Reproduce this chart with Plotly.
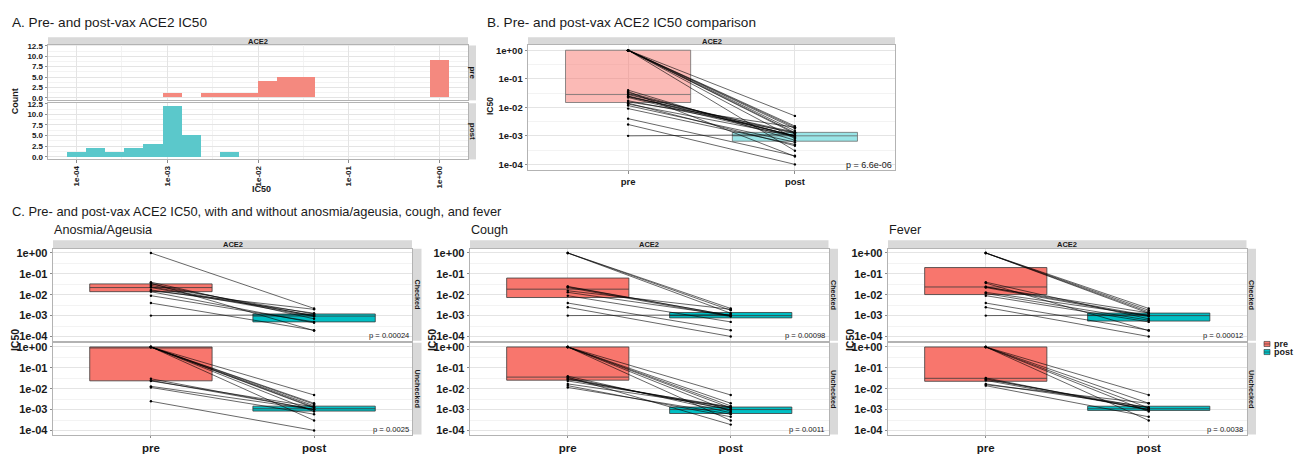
import numpy as np
import plotly.graph_objects as go

# ---------------- data ----------------
pre_ic50 = [0.001, 0.0025, 0.004, 0.009, 0.0115, 0.013, 0.014, 0.0155, 0.017,
            0.0235, 0.022, 0.024, 0.025, 0.028, 0.030, 0.033, 0.036, 0.040,
            1.0, 1.0, 1.0, 1.0, 1.0, 1.0, 1.0, 1.0, 1.0]
post_ic50 = [0.0011, 0.0001, 0.0002, 0.0005, 0.0006, 0.001, 0.00045, 0.002, 0.0013,
             0.00135, 0.0009, 0.001, 0.001, 0.0012, 0.001, 0.00095, 0.00019, 0.0007,
             0.0022, 0.0018, 0.0013, 0.0015, 0.005, 0.002, 0.0012, 0.0008, 0.0003]
anosmia = [1, 0, 1, 1, 0, 0, 1, 1, 1, 0, 1, 1, 0, 1, 0, 1, 1, 1, 1, 0, 0, 0, 0, 0, 0, 0, 0]
cough = [1, 1, 1, 1, 0, 1, 0, 1, 0, 0, 1, 1, 1, 0, 0, 0, 0, 0, 1, 1, 1, 0, 0, 0, 0, 0, 0]
fever = [1, 1, 1, 1, 1, 1, 0, 0, 0, 1, 1, 1, 0, 0, 0, 0, 1, 1, 1, 1, 1, 1, 0, 0, 0, 0, 0]

groups = ["pre", "post"]
facet_rows = ["Checked", "Unchecked"]
symptom_titles = ["Anosmia/Ageusia", "Cough", "Fever"]
p_overall = "p = 6.6e-06"
p_symptom = [["p = 0.00024", "p = 0.0025"],
             ["p = 0.00098", "p = 0.0011"],
             ["p = 0.00012", "p = 0.0038"]]
ic50_tick_vals = [1e-4, 1e-3, 1e-2, 1e-1, 1e0]
ic50_tick_text = ["1e-04", "1e-03", "1e-02", "1e-01", "1e+00"]
count_tick_vals = [0, 2.5, 5, 7.5, 10, 12.5]
count_tick_text = ["0.0", "2.5", "5.0", "7.5", "10.0", "12.5"]
HIST_BINS = 20

# ---------------- styling ----------------
W, H = 1301, 454
FONT = "Liberation Sans, Arial, Helvetica, sans-serif"
PRE_FULL, POST_FULL = "#F8766D", "#00BFC4"
PRE_HIST, POST_HIST = "#F4897F", "#5BC8CB"
PRE_LIGHT, POST_LIGHT = "rgba(248,118,109,0.5)", "rgba(0,191,196,0.4)"
GRID_MAJ, GRID_MIN, BORDER = "#E4E4E4", "#F3F3F3", "#B3B3B3"
TXT = "#1A1A1A"
STRIP = "#D9D9D9"

# log-tick decoration positions (decades and 2..9 subdivisions)
LOG_MAJOR = [10.0 ** e for e in range(-5, 2)]
LOG_MINOR = [m * 10.0 ** e for e in range(-5, 1) for m in range(2, 10)]


def dx(a, b):
    return [a / W, b / W]


def dy(top, bottom):
    return [1 - bottom / H, 1 - top / H]


lpre = np.log10(pre_ic50)
lpost = np.log10(post_ic50)
ltick = list(np.log10(ic50_tick_vals))

fig = go.Figure()
layout = {}
shapes, annotations = [], []


def text(x, y, s, size, bold=False, anchor="left", angle=0, color=TXT):
    annotations.append(dict(
        x=x / W, y=1 - y / H, xref="paper", yref="paper",
        text=("<b>%s</b>" % s) if bold else s, showarrow=False,
        xanchor=anchor, yanchor="middle", textangle=angle, borderpad=0,
        font=dict(size=size, family=FONT, color=color)))


def rect(x0, y0, x1, y1, fill):
    shapes.append(dict(type="rect", xref="paper", yref="paper",
                       x0=x0 / W, x1=x1 / W, y0=1 - y1 / H, y1=1 - y0 / H,
                       fillcolor=fill, line=dict(width=0), layer="below"))


def axis(domain, anchor, rng, tickvals, ticktext, size, labels=True,
         minor=None, ticks="outside", angle=None):
    d = dict(domain=domain, anchor=anchor, range=rng, tickmode="array",
             tickvals=tickvals, ticktext=ticktext, showticklabels=labels,
             tickfont=dict(size=size, family=FONT, color=TXT, weight="bold"),
             ticks=ticks, ticklen=2.5, tickwidth=0.8, tickcolor="#8C8C8C",
             showline=True, linecolor=BORDER, linewidth=0.8, mirror=True,
             showgrid=True, gridcolor=GRID_MAJ, gridwidth=0.8,
             zeroline=False, fixedrange=True)
    if minor is not None:
        d["minor"] = dict(tickmode="linear", tick0=0, dtick=minor, showgrid=True,
                          gridcolor=GRID_MIN, gridwidth=0.6, ticks="")
    if angle is not None:
        d["tickangle"] = angle
    return d


def logticks(overlay, anchor, rng, side):
    return dict(overlaying=overlay, anchor=anchor, type="log", range=rng, side=side,
                showline=False, showgrid=False, zeroline=False, showticklabels=False,
                tickmode="array", tickvals=LOG_MAJOR, ticks="inside", ticklen=3,
                tickwidth=0.6, tickcolor="#8C8C8C", fixedrange=True,
                minor=dict(tickmode="array", tickvals=LOG_MINOR, ticks="inside",
                           ticklen=1.8, tickwidth=0.5, tickcolor="#9A9A9A",
                           showgrid=False))


def qstats(v):
    q1, med, q3 = np.percentile(v, [25, 50, 75])
    return q1, med, q3


def add_box(xpos, v, fill, line, ax):
    q1, med, q3 = qstats(v)
    fig.add_trace(go.Box(x=[xpos], q1=[q1], median=[med], q3=[q3],
                         lowerfence=[q1], upperfence=[q3], width=0.75,
                         fillcolor=fill, line=dict(color=line, width=0.8),
                         whiskerwidth=0, boxpoints=False, hoverinfo="skip",
                         xaxis="x%d" % ax, yaxis="y%d" % ax, showlegend=False))


def add_pairs(a, b, ax):
    xs, ys = [], []
    for u, v in zip(a, b):
        xs += [1, 2, None]
        ys += [u, v, None]
    fig.add_trace(go.Scatter(x=xs, y=ys, mode="lines+markers",
                             line=dict(color="black", width=0.6),
                             marker=dict(color="black", size=2.4),
                             hoverinfo="skip", showlegend=False,
                             xaxis="x%d" % ax, yaxis="y%d" % ax))


# ---------------- Panel A: histograms ----------------
A_X = (48, 468)
A_ROWS = [(42.7, 99.2), (102.2, 160)]
lall = np.concatenate([lpre, lpost])
bw = (lall.max() - lall.min()) / (HIST_BINS - 1)
a_lo, a_hi = lall.min() - bw / 2, lall.max() + bw / 2
a_pad = 0.05 * (a_hi - a_lo)
a_rng = [a_lo - a_pad, a_hi + a_pad]
for i, (vals, col) in enumerate([(lpre, PRE_HIST), (lpost, POST_HIST)]):
    ax = i + 1
    fig.add_trace(go.Histogram(x=vals, xbins=dict(start=a_lo, end=a_hi, size=bw),
                               marker=dict(color=col, line=dict(width=0)),
                               hoverinfo="skip", showlegend=False,
                               xaxis="x%d" % ax, yaxis="y%d" % ax))
    top, bot = A_ROWS[i]
    layout["xaxis%d" % ax] = axis(dx(*A_X), "y%d" % ax, a_rng, ltick, ic50_tick_text, 8,
                                  labels=(i == 1), minor=0.5,
                                  ticks="outside" if i == 1 else "", angle=-90)
    layout["yaxis%d" % ax] = axis(dy(top, bot), "x%d" % ax, [-0.6, 12.6],
                                  count_tick_vals, count_tick_text, 8, minor=1.25)
    layout["xaxis%d" % (10 + i)] = logticks("x%d" % ax, "y%d" % ax, a_rng, "bottom")
    rect(469, top, 476, bot, STRIP)
    text(472.5, (top + bot) / 2, groups[i], 8, bold=True, anchor="center", angle=90)
rect(A_X[0], 34.3, A_X[1], 42.7, STRIP)
text((A_X[0] + A_X[1]) / 2, 38.6, "ACE2", 7.5, bold=True, anchor="center")
text(11, 18.8, "A. Pre- and post-vax ACE2 IC50", 13.6)
text(15, 100, "Count", 9, bold=True, anchor="center", angle=-90)
text(261, 190.5, "IC50", 9, bold=True, anchor="center")

# ---------------- Panel B: paired comparison ----------------
B_X, B_Y = (528, 895), (41.7, 171)
y_rng = [-4.2, 0.2]
add_box(1, lpre, PRE_LIGHT, "#6E6E6E", 3)
add_box(2, lpost, POST_LIGHT, "#6E6E6E", 3)
add_pairs(lpre, lpost, 3)
layout["xaxis3"] = axis(dx(*B_X), "y3", [0.4, 2.6], [1, 2], groups, 9.5)
layout["yaxis3"] = axis(dy(*B_Y), "x3", y_rng, ltick, ic50_tick_text, 9.5, minor=0.5)
layout["yaxis12"] = logticks("y3", "x3", y_rng, "left")
rect(B_X[0], 34.3, B_X[1], B_Y[0], STRIP)
text((B_X[0] + B_X[1]) / 2, 38.2, "ACE2", 7.5, bold=True, anchor="center")
text(893, 165.5, p_overall, 9, anchor="right")
text(486, 18.8, "B. Pre- and post-vax ACE2 IC50 comparison", 13.6)
text(490, 105, "IC50", 8.5, bold=True, anchor="center", angle=-90)

# ---------------- Panel C: by symptom ----------------
C_X = [(53, 412), (470, 828.5), (888, 1246.5)]
C_ROWS = [(252, 346.6), (348.8, 443.3)]
text(11, 214, "C. Pre- and post-vax ACE2 IC50, with and without anosmia/ageusia, cough, and fever", 12.9)
for s, flags in enumerate([anosmia, cough, fever]):
    x0, x1 = C_X[s]
    flags = np.array(flags)
    for r, row in enumerate(facet_rows):
        ax = 4 + 2 * s + r
        mask = flags == (1 if row == "Checked" else 0)
        add_box(1, lpre[mask], PRE_FULL, "#3A3A3A", ax)
        add_box(2, lpost[mask], POST_FULL, "#3A3A3A", ax)
        add_pairs(lpre[mask], lpost[mask], ax)
        top, bot = C_ROWS[r]
        layout["xaxis%d" % ax] = axis(dx(x0, x1), "y%d" % ax, [0.4, 2.6], [1, 2], groups,
                                      11.5, labels=(r == 1),
                                      ticks="outside" if r == 1 else "")
        layout["yaxis%d" % ax] = axis(dy(top, bot), "x%d" % ax, y_rng, ltick,
                                      ic50_tick_text, 11, minor=0.5)
        layout["yaxis%d" % (13 + 2 * s + r)] = logticks("y%d" % ax, "x%d" % ax, y_rng, "left")
        rect(x1 + 0.8, top, x1 + 9.5, bot, STRIP)
        text(x1 + 5.2, (top + bot) / 2, row, 7.2, bold=True, anchor="center", angle=90)
        text(x1 - 2.5, bot - 5.3, p_symptom[s][r], 7.6, anchor="right")
    rect(x0, 243.3, x1, C_ROWS[0][0], STRIP)
    text((x0 + x1) / 2, 247.8, "ACE2", 7.5, bold=True, anchor="center")
    text(x0 - 0.5, 233, symptom_titles[s], 12.6)
    text(x0 - 38, 346, "IC50", 10.5, bold=True, anchor="center", angle=-90)

# ---------------- legend (pre / post keys) ----------------
for k, (g, col) in enumerate([("pre", PRE_FULL), ("post", POST_FULL)]):
    yc = 350 + 8.3 * k
    shapes.append(dict(type="rect", xref="paper", yref="paper",
                       x0=1264 / W, x1=1270 / W, y0=1 - (yc + 2.6) / H, y1=1 - (yc - 2.6) / H,
                       fillcolor=col, line=dict(color="#333333", width=0.6)))
    shapes.append(dict(type="line", xref="paper", yref="paper",
                       x0=1264 / W, x1=1270 / W, y0=1 - yc / H, y1=1 - yc / H,
                       line=dict(color="#333333", width=0.6)))
    text(1273, yc, g, 9, bold=True)

fig.update_layout(width=W, height=H, margin=dict(l=0, r=0, t=0, b=0),
                  paper_bgcolor="white", plot_bgcolor="white", showlegend=False,
                  bargap=0, font=dict(family=FONT, color=TXT),
                  shapes=shapes, annotations=annotations, **layout)
fig.write_html(
    "out.html",
    config={"displayModeBar": False},
    post_script=("document.body.style.margin='0';"
                 "document.body.style.overflow='hidden';"
                 "document.documentElement.style.overflow='hidden';"))
